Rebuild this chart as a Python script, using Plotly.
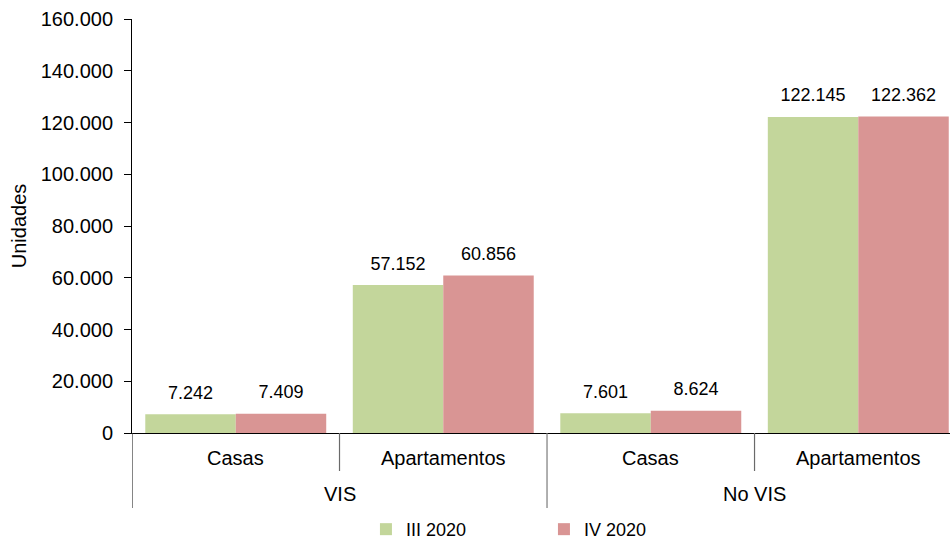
import plotly.graph_objects as go

groups = ["VIS", "VIS", "No VIS", "No VIS"]
types = ["Casas", "Apartamentos", "Casas", "Apartamentos"]
iii_2020 = [7242, 57152, 7601, 122145]
iv_2020 = [7409, 60856, 8624, 122362]
series_names = ["III 2020", "IV 2020"]
colors = ["#c3d69b", "#d99594"]
y_ticks = [0, 20000, 40000, 60000, 80000, 100000, 120000, 140000, 160000]

FONT = "Liberation Sans, Arial, sans-serif"
keys = [f"{g}|{t}" for g, t in zip(groups, types)]

fig = go.Figure()
for i, (name, vals, col) in enumerate(zip(series_names, [iii_2020, iv_2020], colors)):
    fig.add_trace(go.Bar(
        x=keys, y=vals, name=name, offsetgroup=str(i),
        marker=dict(color=col, line=dict(width=0)),
        hoverinfo="skip",
    ))
for i, vals in enumerate([iii_2020, iv_2020]):
    fig.add_trace(go.Scatter(
        x=keys, y=vals, offsetgroup=str(i), mode="markers+text",
        marker=dict(size=16, color="rgba(0,0,0,0)"),
        texttemplate="%{y:,}", textposition="top center",
        textfont=dict(size=18, color="black", family=FONT),
        showlegend=False, hoverinfo="skip", cliponaxis=False,
    ))

# category labels and dividers (drawn below the axis)
shapes = []
annotations = []
for k, t in zip(keys, types):
    annotations.append(dict(x=k, xref="x", y=0, yref="paper", yshift=-25, text=t,
                            showarrow=False, yanchor="middle", font=dict(size=20)))
n = len(keys)
short_y = -38 / 414
long_y = -75 / 414
for b in range(n):
    pos = b - 0.5
    if b == 0 or groups[b] != groups[b - 1]:
        shapes.append(dict(type="line", xref="x", yref="paper", x0=pos, x1=pos, y0=0, y1=long_y,
                           line=dict(color="#333333" if b == 0 else "#7a7a7a", width=1.2)))
    else:
        shapes.append(dict(type="line", xref="x", yref="paper", x0=pos, x1=pos, y0=0, y1=short_y,
                           line=dict(color="#6a6a6a", width=1.2)))
seen = []
for g in groups:
    if g not in seen:
        seen.append(g)
for g in seen:
    idx = [i for i, gg in enumerate(groups) if gg == g]
    mid = (idx[0] + idx[-1]) / 2
    annotations.append(dict(x=mid, xref="x", y=0, yref="paper", yshift=-61, text=g,
                            showarrow=False, yanchor="middle", font=dict(size=20)))

fig.update_layout(
    width=951, height=539,
    separators=",.",
    barmode="group", bargap=0.128, bargroupgap=0, scattermode="group", scattergap=0.128,
    plot_bgcolor="white", paper_bgcolor="white",
    font=dict(family=FONT, size=20, color="black"),
    margin=dict(l=132, r=1, t=19, b=106, autoexpand=False),
    showlegend=True,
    legend=dict(orientation="h", x=0.286, xanchor="left", y=-0.233, yanchor="middle",
                font=dict(size=18), entrywidth=133, entrywidthmode="pixels",
                traceorder="normal", itemwidth=30),
    xaxis=dict(type="category", range=[-0.5, 3.442], showticklabels=False, ticks="",
               showline=True, linecolor="black", linewidth=1, automargin=False,
               showgrid=False, zeroline=False, fixedrange=True),
    yaxis=dict(range=[0, 160000], tickvals=y_ticks, tickformat=",", showgrid=False,
               showline=True, linecolor="black", linewidth=1, ticks="outside", ticklen=7,
               tickcolor="black", ticklabelstandoff=7, automargin=False,
               tickfont=dict(size=20), zeroline=False,
               title=dict(text="Unidades", standoff=8, font=dict(size=20))),
    shapes=shapes,
    annotations=annotations,
)

# remove the page's default body margin so the 951x539 figure fills the window exactly
fig.write_html("out.html", config={"displayModeBar": False},
               post_script="document.body.style.margin='0';document.body.style.overflow='hidden';")
